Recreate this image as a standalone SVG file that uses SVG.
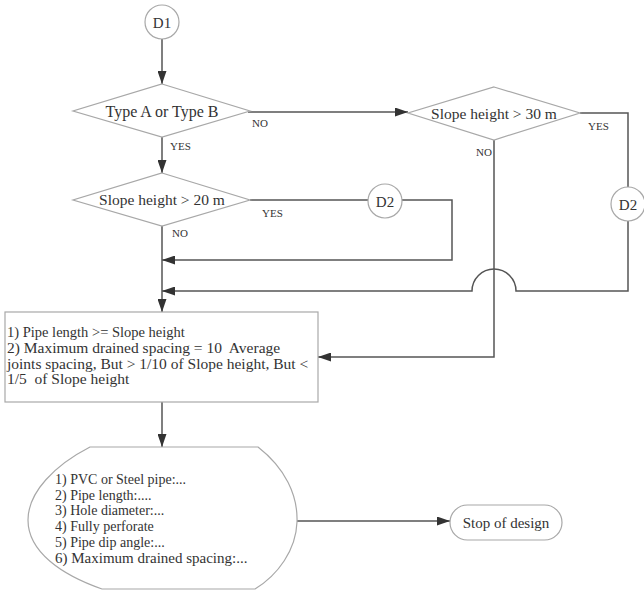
<svg xmlns="http://www.w3.org/2000/svg" width="644" height="591" viewBox="0 0 644 591">
<defs>
<style>
.shape{fill:#fff;stroke:#a8a8a8;stroke-width:1.2}
.ln{fill:none;stroke:#555;stroke-width:1.5}
.t{font-family:"Liberation Serif","Times New Roman",serif;fill:#333}
.c{text-anchor:middle}
.lab{font-size:11px}
</style>
<marker id="ah" markerUnits="userSpaceOnUse" markerWidth="13" markerHeight="9" refX="13" refY="4.5" orient="auto">
<path d="M0,0 L13,4.5 L0,9 Z" fill="#333"/>
</marker>
</defs>
<rect width="644" height="591" fill="#fff"/>

<g id="connectors">
<line class="ln" x1="162" y1="39" x2="162" y2="84" marker-end="url(#ah)"/>
<line class="ln" x1="248" y1="112" x2="408" y2="112" marker-end="url(#ah)"/>
<line class="ln" x1="162" y1="137" x2="162" y2="173" marker-end="url(#ah)"/>
<line class="ln" x1="250" y1="200" x2="368" y2="200"/>
<polyline class="ln" points="402,200 452,200 452,260 162,260" marker-end="url(#ah)"/>
<polyline class="ln" points="580,113 628,113 628,187"/>
<path class="ln" d="M628,221 L628,291 L516,291 A22,22 0 0 0 472,291 L162,291" marker-end="url(#ah)"/>
<polyline class="ln" points="494,140 494,357 318,357" marker-end="url(#ah)"/>
<line class="ln" x1="162" y1="225" x2="162" y2="312" marker-end="url(#ah)"/>
<line class="ln" x1="162" y1="402" x2="162" y2="447" marker-end="url(#ah)"/>
<line class="ln" x1="297" y1="521" x2="450" y2="521" marker-end="url(#ah)"/>
<text class="t lab" x="252" y="127">NO</text>
<text class="t lab" x="170" y="150">YES</text>
<text class="t lab" x="588" y="130">YES</text>
<text class="t lab" x="476" y="156">NO</text>
<text class="t lab" x="262" y="217">YES</text>
<text class="t lab" x="172" y="237">NO</text>
</g>

<g id="d1">
<circle class="shape" cx="162" cy="22" r="17"/>
<text class="t c" x="162" y="27.5" font-size="15">D1</text>
</g>

<g id="typeAB">
<polygon class="shape" points="162,84 250,111 162,137 73,111"/>
<text class="t c" x="162" y="117" font-size="16">Type A or Type B</text>
</g>

<g id="slope30">
<polygon class="shape" points="494,87 580,113 494,140 408,113"/>
<text class="t c" x="494" y="118.5" font-size="15.5">Slope height &gt; 30 m</text>
</g>

<g id="slope20">
<polygon class="shape" points="162,173 250,200 162,226 73,200"/>
<text class="t c" x="162" y="205" font-size="15.5">Slope height &gt; 20 m</text>
</g>

<g id="d2-left">
<circle class="shape" cx="385" cy="201" r="17"/>
<text class="t c" x="385" y="206.5" font-size="15">D2</text>
</g>

<g id="d2-right">
<circle class="shape" cx="628" cy="204" r="17"/>
<text class="t c" x="628" y="209.5" font-size="15">D2</text>
</g>

<g id="rules">
<rect class="shape" x="5" y="312" width="313" height="90"/>
<text class="t" x="7" y="337" font-size="14.5">1) Pipe length &gt;= Slope height</text>
<text class="t" x="7" y="353" font-size="15.5" xml:space="preserve">2) Maximum drained spacing = 10  Average</text>
<text class="t" x="7" y="368.5" font-size="15.5">joints spacing, But &gt; 1/10 of Slope height, But &lt;</text>
<text class="t" x="7" y="384" font-size="15.5" xml:space="preserve">1/5  of Slope height</text>
</g>

<g id="output">
<path class="shape" d="M90,447 L258,447 C285,468 298,495 297,522 C296,550 278,575 255,589 L102,589 C62,575 28,552 28,520 C28,492 55,465 90,447 Z"/>
<text class="t" x="55" y="484" font-size="14">1) PVC or Steel pipe:...</text>
<text class="t" x="55" y="499.5" font-size="14">2) Pipe length:....</text>
<text class="t" x="55" y="515" font-size="14">3) Hole diameter:...</text>
<text class="t" x="55" y="531" font-size="14">4) Fully perforate</text>
<text class="t" x="55" y="547" font-size="14">5) Pipe dip angle:...</text>
<text class="t" x="55" y="563" font-size="15">6) Maximum drained spacing:...</text>
</g>

<g id="stop">
<rect class="shape" x="450" y="505" width="112" height="35" rx="17.5"/>
<text class="t c" x="506" y="528" font-size="15">Stop of design</text>
</g>
</svg>
